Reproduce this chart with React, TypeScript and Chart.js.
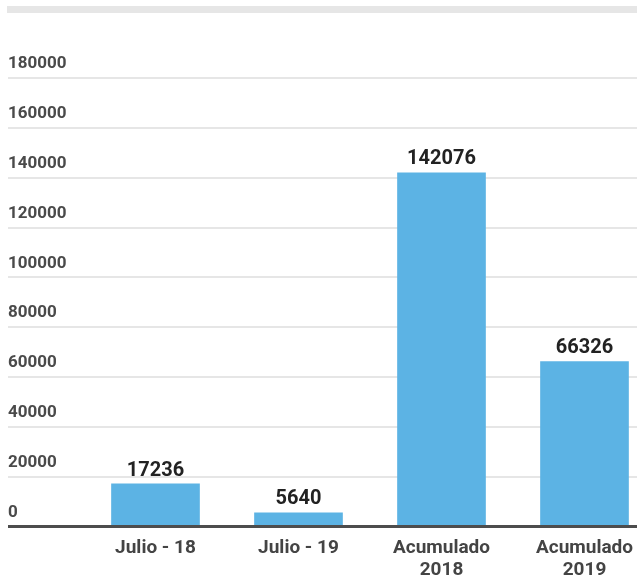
import React, { useEffect, useRef } from "react";
import { Chart, registerables } from "chart.js";

Chart.register(...registerables);

const categories: (string | string[])[] = ["Julio - 18", "Julio - 19", ["Acumulado", "2018"], ["Acumulado", "2019"]];
const values: number[] = [17236, 5640, 142076, 66326];
const yMin = 0;
const yMax = 180000;
const yStep = 20000;

const barColor = "#5cb3e4";

const valueLabels = {
  id: "valueLabels",
  afterDatasetsDraw(chart: any) {
    const ctx = chart.ctx;
    const meta = chart.getDatasetMeta(0);
    ctx.save();
    ctx.font = "bold 20px Roboto";
    ctx.fillStyle = "#222222";
    ctx.textAlign = "center";
    ctx.textBaseline = "alphabetic";
    meta.data.forEach((el: any, i: number) => {
      ctx.fillText(String(chart.data.datasets[0].data[i]), el.x, el.y - 8);
    });
    ctx.restore();
  },
};

export default function App() {
  const ref = useRef<HTMLCanvasElement>(null);
  useEffect(() => {
    if (!ref.current) return;
    const chart = new Chart(ref.current, {
      type: "bar",
      data: {
        labels: categories,
        datasets: [
          {
            data: values,
            backgroundColor: barColor,
            borderWidth: 0,
            barPercentage: 0.62,
            categoryPercentage: 1,
          },
        ],
      },
      options: {
        animation: false,
        responsive: true,
        maintainAspectRatio: false,
        layout: { padding: { top: 78, left: 8, right: 0, bottom: 0 } },
        plugins: { legend: { display: false }, tooltip: { enabled: false } },
        scales: {
          x: {
            grid: { display: false },
            border: { display: false },
            ticks: {
              color: "#444444",
              font: { family: "Roboto", size: 19, weight: "bold", lineHeight: 1.2 },
              padding: 2,
              maxRotation: 0,
              autoSkip: false,
            },
            afterFit: (s: any) => {
              s.height = 52.5;
            },
          },
          y: {
            min: yMin,
            max: yMax,
            border: { display: false },
            grid: {
              color: (c: any) => (c.tick && c.tick.value === 0 ? "#4d4d4d" : "#e6e6e6"),
              lineWidth: (c: any) => (c.tick && c.tick.value === 0 ? 3 : 2),
              tickLength: 76,
              drawTicks: true,
            },
            ticks: {
              stepSize: yStep,
              crossAlign: "far",
              labelOffset: -14,
              color: "#4a4a4a",
              font: { family: "Roboto", size: 17, weight: "bold" },
              callback: (v: any) => String(v),
            },
            afterFit: (s: any) => {
              s.width = 76;
            },
          },
        },
      },
      plugins: [valueLabels],
    });
    return () => chart.destroy();
  }, []);

  return (
    <div style={{ position: "fixed", top: 0, left: 0, width: 637, height: 579, overflow: "hidden", background: "#fff" }}>
      <div style={{ position: "absolute", top: 6, left: 7, right: 0, height: 7, background: "#e6e6e6" }} />
      <div style={{ position: "absolute", top: 0, left: 0, width: 656, height: 579 }}>
        <canvas ref={ref} />
      </div>
    </div>
  );
}
